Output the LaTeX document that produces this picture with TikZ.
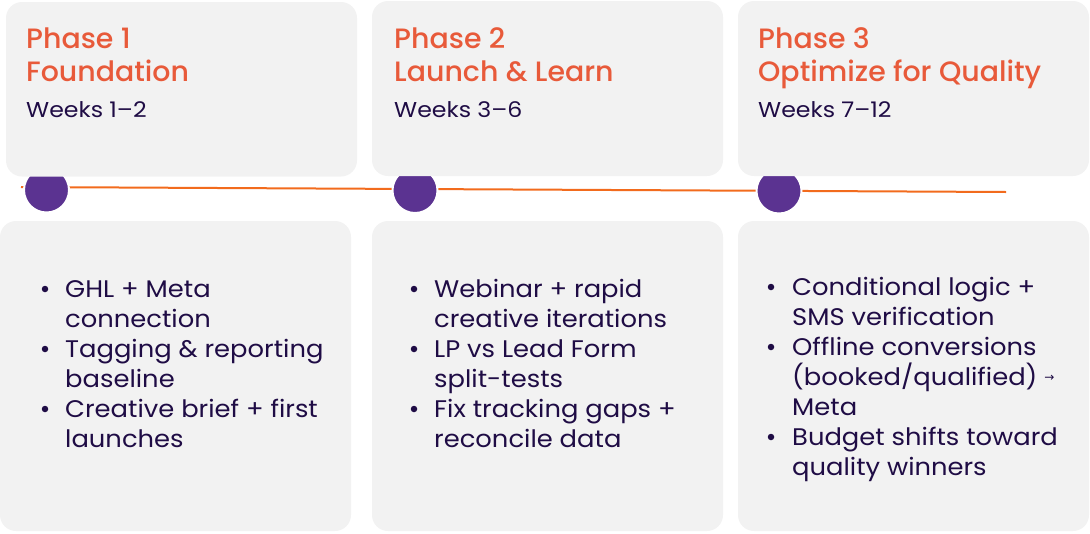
\documentclass[tikz,border=0pt]{standalone}
\usepackage{fontspec}
\setmainfont{Poppins}
\newfontfamily\titlefont{Poppins}[UprightFont=* Medium, FakeStretch=1.015]
\newfontfamily\itemfont{Poppins}[FakeStretch=1.075]
\newfontfamily\weekfont{Poppins}[FakeStretch=1.1]
\newfontfamily\symfont{DejaVu Sans}
\definecolor{boxgray}{HTML}{F2F2F2}
\definecolor{titleorange}{HTML}{E85A3A}
\definecolor{lineorange}{HTML}{F26B1D}
\definecolor{dotpurple}{HTML}{5B3391}
\definecolor{navy}{HTML}{1F0C45}
\tikzset{
  panel/.style={fill=boxgray, draw=none, rounded corners=16pt},
  dot/.style={circle, fill=dotpurple, draw=white, line width=2pt, minimum size=45pt, inner sep=0pt},
  ttl/.style={anchor=base west, inner sep=0pt, text=titleorange, font=\titlefont\fontsize{28}{33}\selectfont},
  wks/.style={anchor=base west, inner sep=0pt, text=navy, font=\weekfont\fontsize{21.5}{25}\selectfont},
  itm/.style={anchor=base west, inner sep=0pt, text=navy, font=\itemfont\fontsize{24}{30}\selectfont},
  bul/.style={circle, fill=navy, draw=none, minimum size=6.5pt, inner sep=0pt},
}
\begin{document}
\begin{tikzpicture}[x=1pt,y=-1pt]
\useasboundingbox (0,0) rectangle (1090,533);
% timeline
\coordinate (ls) at (21,187);
\coordinate (le) at (1006,192);
\draw[lineorange, line width=2pt] (ls) -- (le);
\node[dot] (d1) at (46.5,190) {};
\node[dot] (d2) at (415,190.5) {};
\node[dot] (d3) at (779,191) {};
% top panels
\path[panel] (6,2) rectangle (357,176.5);
\path[panel] (372,1) rectangle (723,176);
\path[panel] (738,1) rectangle (1089,176);
% bottom panels
\path[panel] (0,221) rectangle (351,531);
\path[panel] (372,221) rectangle (723,531);
\path[panel] (738,221) rectangle (1089,531);
% headers
\node[ttl] (t1a) at (26,48) {Phase 1};
\node[ttl] (t1b) at (26,81) {Foundation};
\node[wks] (w1) at (26,117) {Weeks 1–2};
\node[ttl] (t2a) at (394,48) {Phase 2};
\node[ttl] (t2b) at (394,81) {Launch \& Learn};
\node[wks] (w2) at (394,117) {Weeks 3–6};
\node[ttl] (t3a) at (758,48) {Phase 3};
\node[ttl] (t3b) at (758,81) {Optimize for Quality};
\node[wks] (w3) at (758,117) {Weeks 7–12};
% column 1
\node[bul] (b11) at (45,289) {};
\node[itm] (i11) at (65,297) {GHL + Meta};
\node[itm] (i12) at (65,327) {connection};
\node[bul] (b12) at (45,349) {};
\node[itm] (i13) at (65,357) {Tagging \& reporting};
\node[itm] (i14) at (65,387) {baseline};
\node[bul] (b13) at (45,409) {};
\node[itm] (i15) at (65,417) {Creative brief + first};
\node[itm] (i16) at (65,447) {launches};
% column 2
\node[bul] (b21) at (414,289) {};
\node[itm] (i21) at (434,297) {Webinar + rapid};
\node[itm] (i22) at (434,327) {creative iterations};
\node[bul] (b22) at (414,349) {};
\node[itm] (i23) at (434,357) {LP vs Lead Form};
\node[itm] (i24) at (434,387) {split-tests};
\node[bul] (b23) at (414,409) {};
\node[itm] (i25) at (434,417) {Fix tracking gaps +};
\node[itm] (i26) at (434,447) {reconcile data};
% column 3
\node[bul] (b31) at (771,287) {};
\node[itm] (i31) at (792,295) {Conditional logic +};
\node[itm] (i32) at (792,325) {SMS verification};
\node[bul] (b32) at (771,347) {};
\node[itm] (i33) at (792,355) {Offline conversions};
\node[itm] (i34) at (792,385) {(booked/qualified) \raisebox{3.5pt}{\symfont\fontsize{12}{14}\selectfont →}};
\node[itm] (i35) at (792,415) {Meta};
\node[bul] (b33) at (771,437) {};
\node[itm] (i36) at (792,445) {Budget shifts toward};
\node[itm] (i37) at (792,475) {quality winners};
\end{tikzpicture}
\end{document}
